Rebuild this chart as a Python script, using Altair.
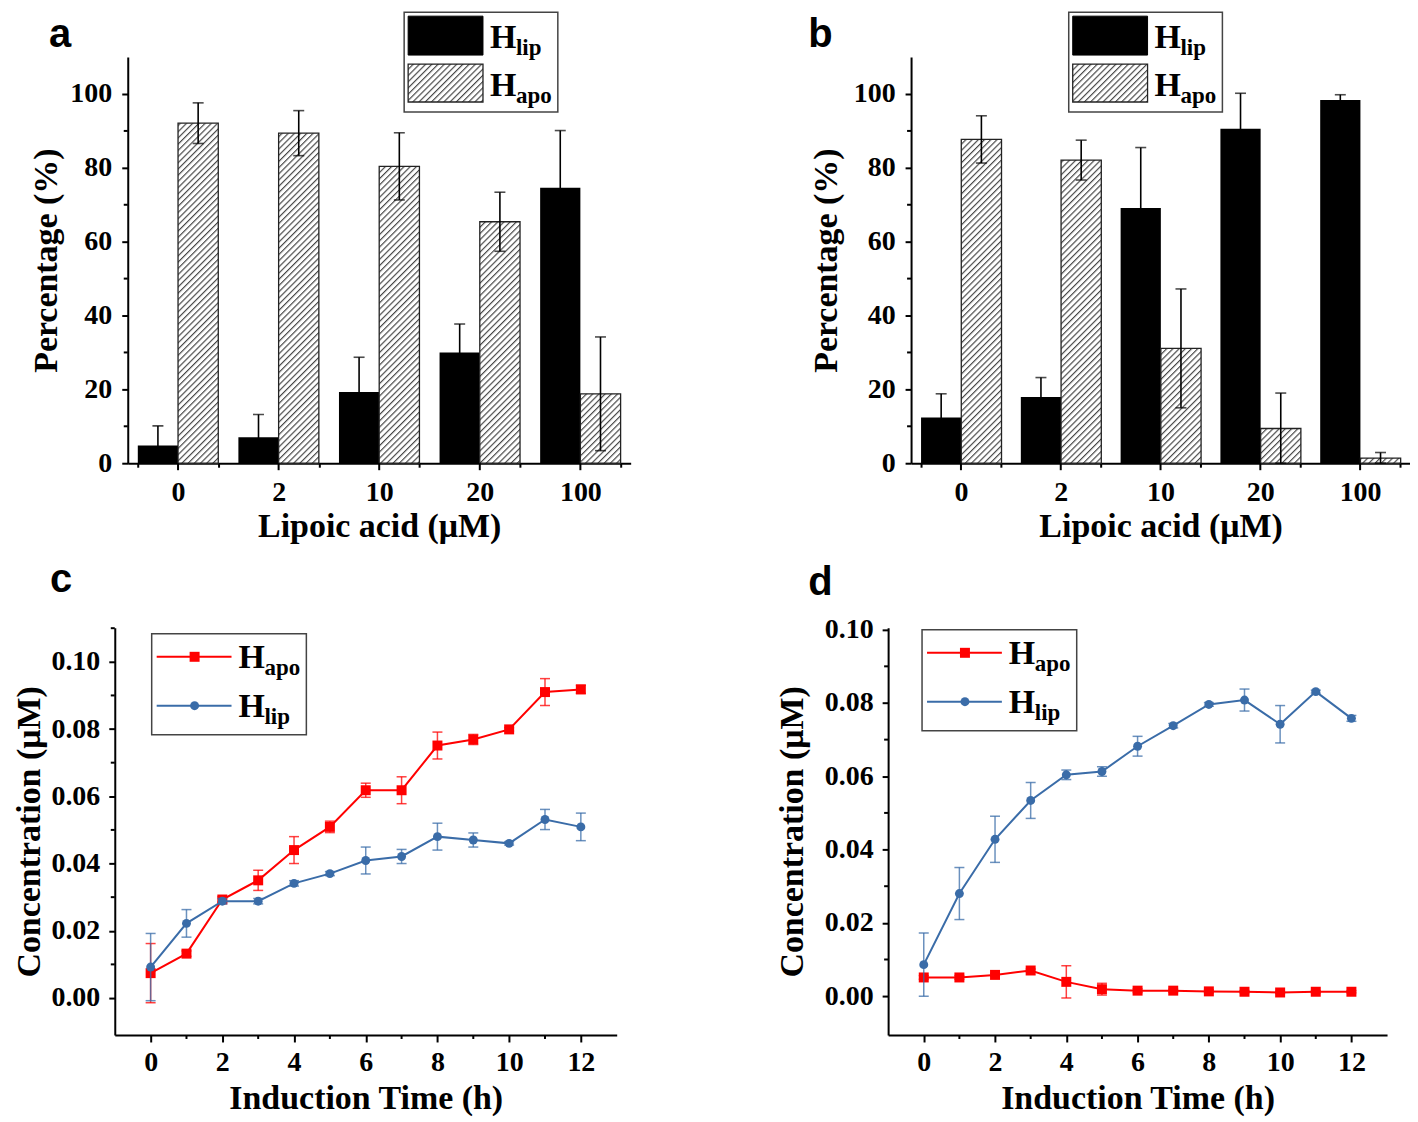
import altair as alt
import pandas as pd

FONT = "Liberation Serif"
RED = "#ff0000"
BLUE = "#3a6ca8"
HATCH = "url(#hatch) white"

# ---------------- data ----------------
cats = ["0", "2", "10", "20", "100"]
a_lip = [4.8, 7.0, 19.3, 30.0, 74.6]
a_lip_sd = [5.3, 6.2, 9.4, 7.7, 15.5]
a_apo = [92.1, 89.4, 80.4, 65.4, 18.8]
a_apo_sd = [5.5, 6.1, 9.1, 8.0, 15.4]
b_lip = [12.4, 17.9, 69.1, 90.6, 98.4]
b_lip_sd = [6.4, 5.3, 16.4, 9.6, 1.4]
b_apo = [87.7, 82.1, 31.1, 9.4, 1.4]
b_apo_sd = [6.4, 5.4, 16.1, 9.6, 1.5]

hours = list(range(13))
c_apo = [0.0074, 0.0132, 0.0293, 0.0350, 0.0440, 0.0509, 0.0618, 0.0618, 0.0751, 0.0769, 0.0799, 0.0910, 0.0918]
c_apo_sd = [0.0088, 0.0008, 0.0008, 0.0030, 0.0040, 0.0017, 0.0021, 0.0040, 0.0040, 0.0015, 0.0005, 0.0040, 0.0012]
c_lip = [0.0092, 0.0222, 0.0288, 0.0288, 0.0341, 0.0370, 0.0409, 0.0421, 0.0480, 0.0470, 0.0460, 0.0531, 0.0509]
c_lip_sd = [0.0100, 0.0041, 0.0008, 0.0008, 0.0008, 0.0006, 0.0040, 0.0021, 0.0040, 0.0021, 0.0005, 0.0030, 0.0041]
d_apo = [0.0051, 0.0051, 0.0058, 0.0070, 0.0039, 0.0019, 0.0015, 0.0015, 0.0013, 0.0012, 0.0010, 0.0012, 0.0012]
d_apo_sd = [0.0005, 0.0005, 0.0004, 0.0004, 0.0044, 0.0016, 0.0005, 0.0004, 0.0004, 0.0003, 0.0003, 0.0003, 0.0003]
d_lip = [0.0086, 0.0280, 0.0428, 0.0534, 0.0604, 0.0613, 0.0682, 0.0738, 0.0796, 0.0808, 0.0742, 0.0831, 0.0758]
d_lip_sd = [0.0086, 0.0071, 0.0063, 0.0049, 0.0013, 0.0013, 0.0027, 0.0006, 0.0005, 0.0030, 0.0051, 0.0004, 0.0008]

pct_ticks = [0, 20, 40, 60, 80, 100]
pct_minor = [10, 30, 50, 70, 90]
conc_ticks = [0.0, 0.02, 0.04, 0.06, 0.08, 0.10]
conc_minor_c = [0.01, 0.03, 0.05, 0.07, 0.09, 0.11]
conc_minor_d = [0.01, 0.03, 0.05, 0.07, 0.09]
hour_ticks = [0, 2, 4, 6, 8, 10, 12]
hour_minor = [1, 3, 5, 7, 9, 11]

ONE = pd.DataFrame({"k": [0]})


# ---------------- helpers ----------------
def prule(x1, y1, x2, y2, color="black", width=2.0, opacity=1.0):
    return alt.Chart(ONE).mark_rule(color=color, strokeWidth=width, opacity=opacity).encode(
        x=alt.value(x1), y=alt.value(y1), x2=alt.value(x2), y2=alt.value(y2))


def pin(x, y):
    return alt.Chart(ONE).mark_rule(color="white", strokeWidth=0.2).encode(
        x=alt.value(x), y=alt.value(y), x2=alt.value(x), y2=alt.value(y + 0.2))


def spacer(w):
    return alt.Chart(ONE).mark_rule(color="white", strokeWidth=0.2).encode(
        x=alt.value(0), y=alt.value(0), x2=alt.value(w - 1), y2=alt.value(0)).properties(width=w, height=1)


def ptext(txt, x, y, size, font=FONT, align="left"):
    return alt.Chart(ONE).mark_text(text=txt, font=font, fontWeight="bold", fontSize=size,
                                    align=align, baseline="alphabetic", color="black").encode(
        x=alt.value(x), y=alt.value(y))


def prect(x1, y1, x2, y2, fill, stroke, sw):
    return alt.Chart(ONE).mark_rect(fill=fill, stroke=stroke, strokeWidth=sw).encode(
        x=alt.value(x1), y=alt.value(y1), x2=alt.value(x2), y2=alt.value(y2))


def ppoint(x, y, shape, color, size):
    return alt.Chart(ONE).mark_point(shape=shape, filled=True, size=size, color=color, opacity=1).encode(
        x=alt.value(x), y=alt.value(y))


def entry(x, y, main, sub, sub_dx=26, sub_dy=7):
    return [ptext(main, x, y, 34), ptext(sub, x + sub_dx, y + sub_dy, 23)]


# ---------------- bar panels ----------------
def bar_panel(lip, lip_sd, apo, apo_sd, W, H, label, lab_x, leg_x, title_x, left_pin):
    rows = []
    for s, vals, sds in (("lip", lip, lip_sd), ("apo", apo, apo_sd)):
        for c, v, e in zip(cats, vals, sds):
            rows.append({"cat": c, "series": s, "v": v, "lo": max(0.0, v - e), "hi": v + e})
    df = pd.DataFrame(rows)
    base = alt.Chart(df)
    xs = alt.Scale(domain=cats, paddingInner=0.2, paddingOuter=0.1)
    x = alt.X("cat:N", sort=cats, scale=xs,
              axis=alt.Axis(title="Lipoic acid (μM)", tickBand="extent", tickSize=4, labelAngle=0,
                            labelPadding=11, titleY=73, titleBaseline="alphabetic"))
    xo = alt.XOffset("series:N", scale=alt.Scale(domain=["lip", "apo"], paddingInner=0, paddingOuter=0))
    ys = alt.Scale(domain=[0, 110], nice=False, zero=True)
    y = alt.Y("v:Q", scale=ys,
              axis=alt.Axis(title="Percentage (%)", values=pct_ticks, titleX=title_x, titleY=H / 2,
                            titleAngle=-90, titleBaseline="alphabetic", titleAlign="center",
                            labelPadding=10, tickSize=6))
    lip_bars = base.transform_filter("datum.series == 'lip'").mark_bar(color="black").encode(x=x, xOffset=xo, y=y)
    apo_bars = base.transform_filter("datum.series == 'apo'").mark_bar(
        fill=HATCH, stroke="#222222", strokeWidth=1.3).encode(x=x, xOffset=xo, y=y)
    err = base.mark_rule(color="black", strokeWidth=1.6).encode(
        x=x, xOffset=xo, y=alt.Y("lo:Q", scale=ys), y2="hi:Q")
    cap_hi = base.mark_tick(color="black", thickness=1.6, size=11, orient="horizontal").encode(
        x=x, xOffset=xo, y=alt.Y("hi:Q", scale=ys))
    cap_lo = base.mark_tick(color="black", thickness=1.6, size=11, orient="horizontal").encode(
        x=x, xOffset=xo, y=alt.Y("lo:Q", scale=ys))
    major_x = alt.Chart(pd.DataFrame({"cat": cats})).mark_rule(color="black", strokeWidth=2).encode(
        x=alt.X("cat:N", sort=cats, scale=xs), y=alt.value(H), y2=alt.value(H + 7))
    minor_y = alt.Chart(pd.DataFrame({"v": pct_minor})).mark_rule(color="black", strokeWidth=2).encode(
        y=alt.Y("v:Q", scale=ys), x=alt.value(-4), x2=alt.value(0))
    L = leg_x
    legend = [
        prect(L, -45, L + 154, 55, "white", "#444444", 1.5),
        prect(L + 4, -41, L + 79, -2, "black", "black", 1),
        prect(L + 4, 7, L + 79, 45, HATCH, "#222222", 1.3),
    ] + entry(L + 86, -9, "H", "lip") + entry(L + 86, 39, "H", "apo")
    layers = [lip_bars, apo_bars, err, cap_hi, cap_lo, major_x, minor_y] + legend + [
        ptext(label, lab_x, -10, 40, font="Liberation Sans"),
        pin(left_pin, -47), pin(0, H + 85),
    ]
    return alt.layer(*layers).properties(width=W, height=H)


# ---------------- line panels ----------------
def line_panel(apo, apo_sd, lip, lip_sd, W, H, xdom, ydom, yminor, label, lab_x, lab_y, leg_x, leg_y,
               title_x, left_pin):
    rows = []
    for s, vals, sds in (("apo", apo, apo_sd), ("lip", lip, lip_sd)):
        for h, v, e in zip(hours, vals, sds):
            rows.append({"hour": h, "series": s, "v": v, "lo": v - e, "hi": v + e})
    df = pd.DataFrame(rows)
    xs = alt.Scale(domain=xdom, nice=False, zero=False)
    ys = alt.Scale(domain=ydom, nice=False, zero=False)
    x = alt.X("hour:Q", scale=xs,
              axis=alt.Axis(title="Induction Time (h)", values=hour_ticks, tickSize=7, labelPadding=7,
                            titleY=74, titleBaseline="alphabetic", labelFlush=False))
    y = alt.Y("v:Q", scale=ys,
              axis=alt.Axis(title="Concentration (μM)", values=conc_ticks, format=".2f", titleX=title_x,
                            titleY=H / 2, titleAngle=-90, titleBaseline="alphabetic", titleAlign="center",
                            labelPadding=9, tickSize=6, labelFlush=False))
    layers = []
    for s, color, shape, size in (("apo", RED, "square", 100), ("lip", BLUE, "circle", 80)):
        sub = alt.Chart(df).transform_filter(f"datum.series == '{s}'")
        layers += [
            sub.mark_rule(color=color, strokeWidth=1.5, opacity=0.75).encode(
                x=x, y=alt.Y("lo:Q", scale=ys), y2="hi:Q"),
            sub.mark_tick(color=color, thickness=1.5, size=10, orient="horizontal", opacity=0.75).encode(
                x=x, y=alt.Y("lo:Q", scale=ys)),
            sub.mark_tick(color=color, thickness=1.5, size=10, orient="horizontal", opacity=0.75).encode(
                x=x, y=alt.Y("hi:Q", scale=ys)),
            sub.mark_line(color=color, strokeWidth=2).encode(x=x, y=y),
            sub.mark_point(shape=shape, filled=True, size=size, color=color, opacity=1).encode(x=x, y=y),
        ]
    minor_x = alt.Chart(pd.DataFrame({"hour": hour_minor})).mark_rule(color="black", strokeWidth=2).encode(
        x=alt.X("hour:Q", scale=xs), y=alt.value(H), y2=alt.value(H + 4))
    minor_y = alt.Chart(pd.DataFrame({"v": yminor})).mark_rule(color="black", strokeWidth=2).encode(
        y=alt.Y("v:Q", scale=ys), x=alt.value(-4), x2=alt.value(0))
    L, T = leg_x, leg_y
    legend = [
        prect(L, T, L + 155, T + 101, "white", "#444444", 1.5),
        prule(L + 5, T + 23, L + 80, T + 23, RED, 2),
        ppoint(L + 43, T + 23, "square", RED, 100),
        prule(L + 5, T + 72, L + 80, T + 72, BLUE, 2),
        ppoint(L + 43, T + 72, "circle", BLUE, 80),
    ] + entry(L + 87, T + 34, "H", "apo") + entry(L + 87, T + 83, "H", "lip")
    layers += [minor_x, minor_y] + legend + [
        ptext(label, lab_x, lab_y, 40, font="Liberation Sans"),
        pin(left_pin, -75),
    ]
    return alt.layer(*layers).properties(width=W, height=H)


pa = bar_panel(a_lip, a_lip_sd, a_apo, a_apo_sd, 504, 407, "a", -79, 277, -71, -121)
pb = bar_panel(b_lip, b_lip_sd, b_apo, b_apo_sd, 500, 407, "b", -103, 158, -75, -106)
pc = line_panel(c_apo, c_apo_sd, c_lip, c_lip_sd, 503, 408, [-1, 13], [-0.011, 0.1101], conc_minor_c,
                "c", -65, -36, 37, 6, -75, -108)
pd_ = line_panel(d_apo, d_apo_sd, d_lip, d_lip_sd, 500, 408, [-1, 13], [-0.0106, 0.1005], conc_minor_d,
                 "d", -80, -33, 34, 2, -86, -116)

# leading invisible spacers let the two rows start at different x positions
chart = alt.vconcat(
    alt.hconcat(spacer(1), pa, pb, spacing=174),
    alt.hconcat(spacer(20), pc, pd_, spacing=155),
    spacing=3,
).properties(
    padding={"left": -178, "top": 0, "right": 0, "bottom": 0}
).configure_view(stroke=None).configure_axis(
    labelFont=FONT, labelFontWeight="bold", labelFontSize=28, labelColor="black",
    titleFont=FONT, titleFontWeight="bold", titleFontSize=34, titleColor="black",
    domainColor="black", domainWidth=2, tickColor="black", tickWidth=2, grid=False,
    labelOverlap=False,
)

chart.save("out.html", embed_options={"renderer": "svg", "actions": False})

# hatch pattern used by the H_apo bars, and no scrollbars
defs = ('<svg width="0" height="0" style="position:absolute;left:0;top:0"><defs>'
        '<pattern id="hatch" patternUnits="userSpaceOnUse" width="4.4" height="4.4" '
        'patternTransform="rotate(45)"><rect x="0" y="0" width="4.4" height="4.4" fill="white"/>'
        '<line x1="0.6" y1="0" x2="0.6" y2="4.4" stroke="#3a3a3a" stroke-width="1.1"/></pattern>'
        '</defs></svg><style>html,body{overflow:hidden}</style>')
with open("out.html", encoding="utf-8") as f:
    html = f.read()
html = html.replace("<body>", "<body>" + defs, 1)
with open("out.html", "w", encoding="utf-8") as f:
    f.write(html)
